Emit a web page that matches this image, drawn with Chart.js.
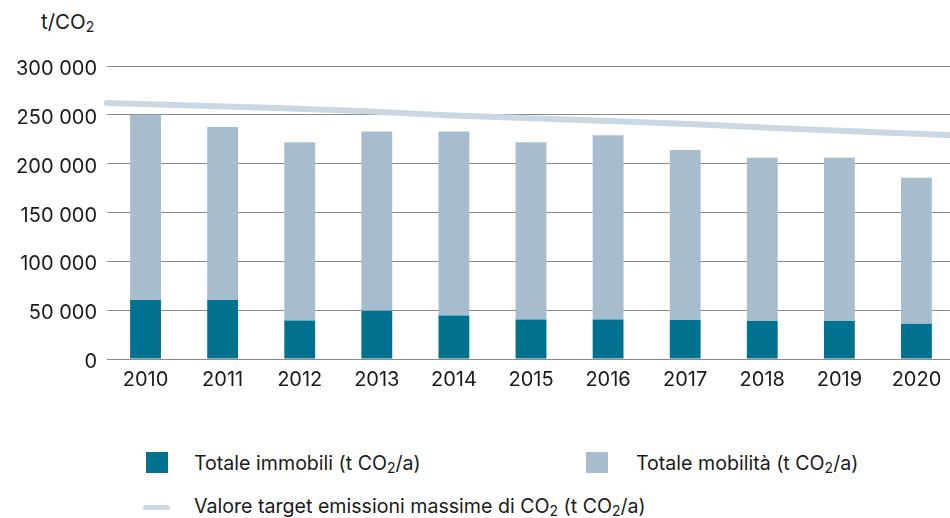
<!DOCTYPE html>
<html lang="it">
<head>
<meta charset="utf-8">
<script src="https://cdn.jsdelivr.net/npm/chart.js@4.4.1/dist/chart.umd.min.js"></script>
<style>
    html, body { margin: 0; padding: 0; background: #fff; overflow: hidden; width: 950px; height: 518px; }
    body { position: relative; font-family: Inter, "Liberation Sans", Arial, sans-serif; color: #1a1a1a; }
    #wrap { position: absolute; left: 0; top: 0; width: 955px; height: 400px; }
    #unit { position: absolute; left: 41px; top: 10px; font-size: 20.5px; line-height: 24px; white-space: nowrap; }
    .sw { position: absolute; width: 22px; height: 21px; }
    .lg { position: absolute; font-size: 19.6px; line-height: 24px; white-space: nowrap; }
    sub { font-size: 14px; vertical-align: -3px; line-height: 0; }
    .ln { position: absolute; width: 27px; height: 5px; border-radius: 3px; }
</style>
</head>
<body>
<div id="unit">t/CO<sub>2</sub></div>
<div id="wrap"><canvas id="chart"></canvas></div>

<div class="sw" style="left:146px; top:452px; background:#00728f;"></div>
<div class="lg" style="left:194px; top:451px;">Totale immobili (t CO<sub>2</sub>/a)</div>
<div class="sw" style="left:586px; top:452px; background:#a7bdcd;"></div>
<div class="lg" style="left:636px; top:451px;">Totale mobilità (t CO<sub>2</sub>/a)</div>
<div class="ln" style="left:143px; top:505px; background:#cad8e4;"></div>
<div class="lg" style="left:194px; top:494px;">Valore target emissioni massime di CO<sub>2</sub> (t CO<sub>2</sub>/a)</div>

<script>
// ===============================
// DATI
// ===============================
const years = ["2010", "2011", "2012", "2013", "2014", "2015", "2016", "2017", "2018", "2019", "2020"];
const immobili = [60500, 60500, 39500, 49500, 44500, 40500, 40500, 40000, 39000, 39000, 36000];
const mobilita = [189500, 177000, 182500, 183500, 188500, 181500, 188500, 174000, 167000, 167000, 149500];
const target = [262000, 259500, 257000, 254000, 249500, 246500, 243500, 240000, 236000, 232500, 229000];
const yTicks = [0, 50000, 100000, 150000, 200000, 250000, 300000];

const fmtNum = (v) => String(v).replace(/\B(?=(\d{3})+(?!\d))/g, " ");

const textColor = "#1a1a1a";
const gridColor = "#8a8a8a";
const tickFont = { family: "Inter, Liberation Sans, Arial, sans-serif", size: 20 };

new Chart(document.getElementById("chart"), {
    data: {
        labels: years,
        datasets: [
            {
                type: "line",
                label: "Valore target",
                data: target,
                xAxisID: "x2",
                borderColor: "#cad8e4",
                borderWidth: 6,
                pointRadius: 0,
                borderCapStyle: "round",
                tension: 0
            },
            {
                type: "bar",
                label: "Totale immobili",
                data: immobili,
                backgroundColor: "#00728f",
                grouped: false,
                barPercentage: 0.4,
                categoryPercentage: 1
            },
            {
                type: "bar",
                label: "Totale mobilità",
                data: mobilita,
                backgroundColor: "#a7bdcd",
                grouped: false,
                barPercentage: 0.4,
                categoryPercentage: 1
            }
        ]
    },
    options: {
        responsive: true,
        maintainAspectRatio: false,
        animation: false,
        layout: { padding: { top: 66, right: 0, bottom: 0, left: 0 } },
        plugins: {
            legend: { display: false },
            tooltip: { enabled: false },
            title: { display: false }
        },
        scales: {
            x: {
                stacked: true,
                afterFit: (scale) => { scale.height = 41; },
                grid: { display: false, drawTicks: false },
                border: { display: false },
                ticks: { color: textColor, padding: 9, font: tickFont }
            },
            x2: {
                type: "category",
                labels: years,
                offset: false,
                display: false
            },
            y: {
                stacked: true,
                min: 0,
                max: 300000,
                afterBuildTicks: (scale) => { scale.ticks = yTicks.map((v) => ({ value: v })); },
                afterFit: (scale) => { scale.width = 107; },
                grid: { color: gridColor, lineWidth: 1, drawTicks: false },
                border: { display: false },
                ticks: {
                    color: textColor,
                    padding: 10,
                    labelOffset: 3,
                    font: tickFont,
                    callback: (v) => fmtNum(v)
                }
            }
        }
    }
});
</script>
</body>
</html>
